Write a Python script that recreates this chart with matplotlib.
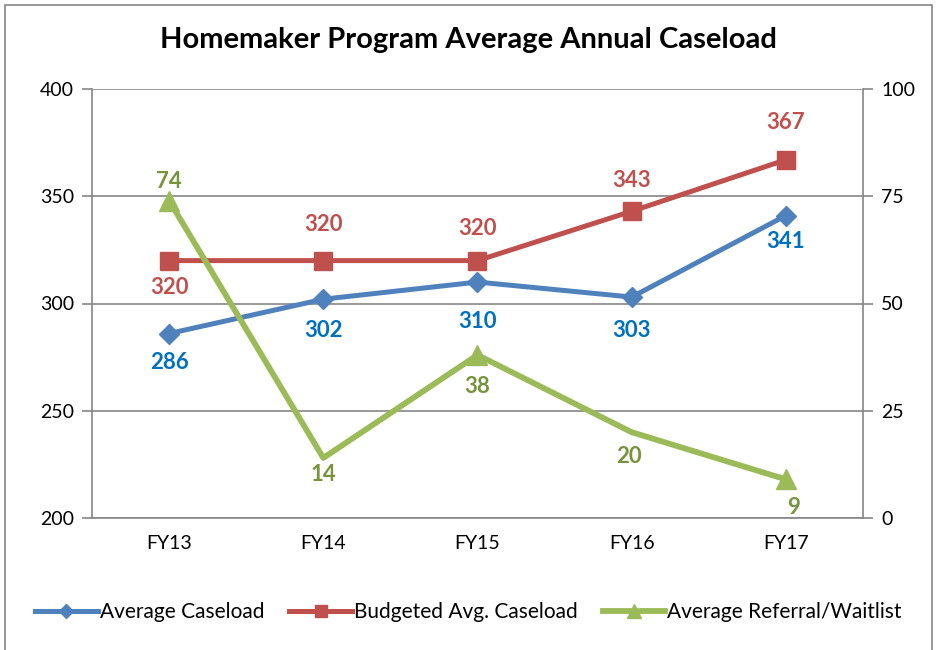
import matplotlib
matplotlib.use("Agg")
import matplotlib.pyplot as plt
from matplotlib.patches import Rectangle

plt.rcParams['font.family'] = ['Lato', 'DejaVu Sans']

categories = ["FY13", "FY14", "FY15", "FY16", "FY17"]
avg_caseload = [286, 302, 310, 303, 341]
budgeted = [320, 320, 320, 343, 367]
referral = [74, 14, 38, 20, 9]

left_ticks = [200, 250, 300, 350, 400]
right_ticks = [0, 25, 50, 75, 100]

blue = "#4F81BD"
red = "#C0504D"
green = "#9BBB59"
blue_lbl = "#0070C0"
red_lbl = "#C0504D"
green_lbl = "#77933C"
gray = "#868686"

fig = plt.figure(figsize=(9.37, 6.5), dpi=100)
ax = fig.add_axes([92/937, 1-518/650, (863-92)/937, (518-89)/650])
ax2 = ax.twinx()

x = list(range(len(categories)))
l1, = ax.plot(x, avg_caseload, color=blue, lw=3.6, marker="D", ms=10.5, zorder=3, label="Average Caseload")
l2, = ax.plot(x, budgeted, color=red, lw=3.6, marker="s", ms=13, zorder=3, label="Budgeted Avg. Caseload")
l3, = ax2.plot(x, referral, color=green, lw=4.2, marker="^", ms=14, markevery=[0, 2, 4], zorder=3,
               label="Average Referral/Waitlist")

ax.set_xlim(-0.5, 4.5)
ax.set_ylim(200, 400)
ax2.set_ylim(0, 100)
ax.set_yticks(left_ticks)
ax2.set_yticks(right_ticks)
ax.set_xticks(x)
ax.set_xticklabels(categories)

ax.grid(axis="y", color=gray, lw=1.2)
ax.set_axisbelow(True)
for a in (ax, ax2):
    for s in a.spines.values():
        s.set_visible(False)
    a.tick_params(labelsize=14, colors="black")
ax.spines["left"].set_visible(True); ax.spines["left"].set_color(gray); ax.spines["left"].set_linewidth(1.2)
ax.spines["bottom"].set_visible(True); ax.spines["bottom"].set_color(gray); ax.spines["bottom"].set_linewidth(1.2)
ax2.spines["right"].set_visible(True); ax2.spines["right"].set_color(gray); ax2.spines["right"].set_linewidth(1.2)
ax.tick_params(axis="y", length=7, width=1.2, color=gray, pad=6)
ax2.tick_params(axis="y", length=7, width=1.2, color=gray, pad=6)
ax.tick_params(axis="x", length=0, pad=12)

fs = 16
px = 0.72  # pixels -> points

# label offsets in pixels (dx, dy), positive dy = up
blue_off = [(0, -29), (0, -31), (0, -39), (0, -33), (0, -26)]
red_off = [(0, -27), (0, 36), (0, 32), (0, 31), (0, 37)]
green_off = [(0, 19), (0, -17), (0, -32), (-3, -24), (8, -28)]

def label(a, xs, vs, offs, color):
    for xi, v, (dx, dy) in zip(xs, vs, offs):
        a.annotate(str(v), (xi, v), xytext=(dx*px, dy*px), textcoords="offset points",
                   ha="center", va="center", color=color, fontsize=fs, fontweight="bold")

label(ax, x, avg_caseload, blue_off, blue_lbl)
label(ax, x, budgeted, red_off, red_lbl)
label(ax2, x, referral, green_off, green_lbl)

fig.text(0.5, 1-40/650, "Homemaker Program Average Annual Caseload", ha="center", va="center",
         fontsize=21, fontweight="bold")

fig.legend(handles=[l1, l2, l3], loc="center", bbox_to_anchor=(0.5, 1-612/650), ncol=3,
           frameon=False, fontsize=15, handlelength=3, handletextpad=0.1, columnspacing=1.2,
           markerscale=0.7)

fig.patches.append(Rectangle((5/937, -0.01), (932-5)/937, 1-5/650+0.01, transform=fig.transFigure,
                             fill=False, edgecolor=gray, lw=1.2))

fig.savefig("out.png", dpi=100)
